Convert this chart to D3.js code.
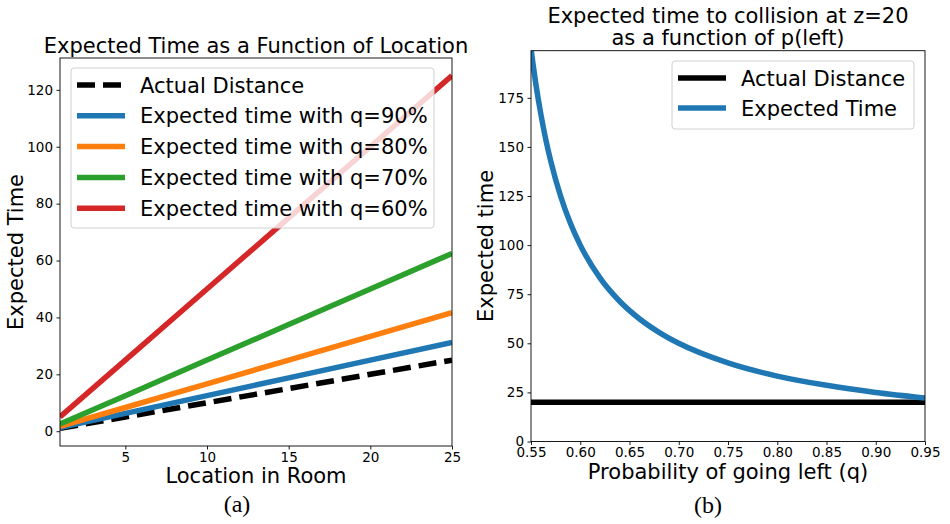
<!DOCTYPE html>
<html>
<head>
<meta charset="utf-8">
<script src="https://cdn.jsdelivr.net/npm/d3@7"></script>
<style>
  body { margin: 0; background: #fff; }
  svg text { font-family: "DejaVu Sans", sans-serif; fill: #000; }
  .tick text { font-size: 13.5px; }
  .caption { font-family: "Liberation Serif", serif; font-size: 24px; }
</style>
</head>
<body>
<div id="chart"></div>
<script>
// panel (a): expected time vs location
const locations = [1, 5, 10, 15, 20, 25]
const actualDistance = [1, 5, 10, 15, 20, 25]
const timeQ90 = [1.25, 6.25, 12.5, 18.75, 25, 31.25]
const timeQ80 = [1.67, 8.33, 16.67, 25, 33.33, 41.67]
const timeQ70 = [2.5, 12.5, 25, 37.5, 50, 62.5]
const timeQ60 = [5, 25, 50, 75, 100, 125]
const leftLabels = ["Actual Distance", "Expected time with q=90%", "Expected time with q=80%",
                    "Expected time with q=70%", "Expected time with q=60%"]
const leftXTicks = [5, 10, 15, 20, 25]
const leftYTicks = [0, 20, 40, 60, 80, 100, 120]

// panel (b): expected time vs p(left), z=20
const probLeft = [0.55, 0.555, 0.56, 0.565, 0.57, 0.58, 0.59, 0.60, 0.62, 0.64, 0.66, 0.68,
                  0.70, 0.75, 0.80, 0.85, 0.90, 0.95]
const expectedTime = [200, 181.8, 166.7, 153.8, 142.9, 125, 111.1, 100, 83.3, 71.4, 62.5, 55.6,
                      50, 40, 33.3, 28.6, 25, 22.2]
const actualDist = [20, 20]
const rightLabels = ["Actual Distance", "Expected Time"]
const rightXTicks = [0.55, 0.60, 0.65, 0.70, 0.75, 0.80, 0.85, 0.90, 0.95]
const rightYTicks = [0, 25, 50, 75, 100, 125, 150, 175]

const colours = ["#000000", "#1f77b4", "#ff7f0e", "#2ca02c", "#d62728"]

let width = 950
let height = 524
let svg = d3.select("#chart")
    .append("svg")
        .attr("width", width)
        .attr("height", height)

function styleAxis(g){
    g.select(".domain").remove()
    g.selectAll(".tick line").attr("stroke", "#000").attr("stroke-width", 0.9)
}

function drawLegend(x, y, w, h, labels, cols, dashed, firstY, step){
    svg.append("rect")
        .attr("x", x).attr("y", y).attr("width", w).attr("height", h)
        .attr("rx", 3)
        .attr("fill", "#fff").attr("fill-opacity", 0.8)
        .attr("stroke", "#d0d0d0").attr("stroke-width", 1)
    labels.forEach(function(lab, i){
        let cy = firstY + i * step
        svg.append("line")
            .attr("x1", x + 6).attr("x2", x + 54)
            .attr("y1", cy).attr("y2", cy)
            .attr("stroke", cols[i]).attr("stroke-width", 5.5)
            .attr("stroke-dasharray", (dashed && i == 0) ? "18,8" : null)
        svg.append("text")
            .attr("x", x + 69).attr("y", cy + 7.5)
            .attr("font-size", "21px")
            .text(lab)
    })
}

// ---------- left panel ----------
let lx = d3.scaleLinear().domain([1, 25]).range([60, 452])
let ly = d3.scaleLinear().domain([-5.2, 131.2]).range([446, 58])

svg.append("clipPath").attr("id", "clipL")
    .append("rect").attr("x", 60).attr("y", 58).attr("width", 392).attr("height", 388)

let leftSeries = [actualDistance, timeQ90, timeQ80, timeQ70, timeQ60]
let leftLine = d3.line()
    .x(d => lx(d[0]))
    .y(d => ly(d[1]))
leftSeries.forEach(function(s, i){
    svg.append("path")
        .attr("clip-path", "url(#clipL)")
        .attr("fill", "none")
        .attr("stroke", colours[i])
        .attr("stroke-width", 5.5)
        .attr("stroke-dasharray", i == 0 ? "18,8" : null)
        .attr("d", leftLine(locations.map((x, j) => [x, s[j]])))
})

svg.append("g")
    .attr("transform", "translate(0,446)")
    .call(d3.axisBottom(lx).tickValues(leftXTicks).tickSize(3.5).tickPadding(2.8).tickSizeOuter(0))
    .call(styleAxis)
svg.append("g")
    .attr("transform", "translate(60,0)")
    .call(d3.axisLeft(ly).tickValues(leftYTicks).tickSize(3.5).tickPadding(3.5).tickSizeOuter(0))
    .call(styleAxis)

svg.append("rect")
    .attr("x", 60).attr("y", 58).attr("width", 392).attr("height", 388)
    .attr("fill", "none").attr("stroke", "#000").attr("stroke-width", 0.9)

drawLegend(71, 68, 363, 160, leftLabels, colours, true, 85, 30.8)

svg.append("text")
    .attr("x", 256).attr("y", 53)
    .attr("text-anchor", "middle").attr("font-size", "21px")
    .text("Expected Time as a Function of Location")
svg.append("text")
    .attr("x", 256).attr("y", 483)
    .attr("text-anchor", "middle").attr("font-size", "21px")
    .text("Location in Room")
svg.append("text")
    .attr("transform", "translate(23,252) rotate(-90)")
    .attr("text-anchor", "middle").attr("font-size", "21px")
    .text("Expected Time")
svg.append("text")
    .attr("class", "caption")
    .attr("x", 237).attr("y", 512)
    .attr("text-anchor", "middle")
    .text("(a)")

// ---------- right panel ----------
let rx = d3.scaleLinear().domain([0.55, 0.95]).range([531, 925])
let ry = d3.scaleLinear().domain([0, 199]).range([441.5, 50.7])

svg.append("clipPath").attr("id", "clipR")
    .append("rect").attr("x", 531).attr("y", 50.7).attr("width", 394).attr("height", 390.8)

let curve = d3.line()
    .x(d => rx(d[0]))
    .y(d => ry(d[1]))
    .curve(d3.curveMonotoneX)

svg.append("path")
    .attr("clip-path", "url(#clipR)")
    .attr("fill", "none")
    .attr("stroke", "#000")
    .attr("stroke-width", 5.5)
    .attr("d", d3.line().x(d => rx(d[0])).y(d => ry(d[1]))([[0.55, actualDist[0]], [0.95, actualDist[1]]]))

svg.append("path")
    .attr("clip-path", "url(#clipR)")
    .attr("fill", "none")
    .attr("stroke", colours[1])
    .attr("stroke-width", 5.5)
    .attr("d", curve(probLeft.map((q, i) => [q, expectedTime[i]])))

svg.append("g")
    .attr("transform", "translate(0,441.5)")
    .call(d3.axisBottom(rx).tickValues(rightXTicks).tickFormat(d3.format(".2f")).tickSize(3.5).tickPadding(2.3).tickSizeOuter(0))
    .call(styleAxis)
svg.append("g")
    .attr("transform", "translate(531,0)")
    .call(d3.axisLeft(ry).tickValues(rightYTicks).tickSize(3.5).tickPadding(3.5).tickSizeOuter(0))
    .call(styleAxis)

svg.append("rect")
    .attr("x", 531).attr("y", 50.7).attr("width", 394).attr("height", 390.8)
    .attr("fill", "none").attr("stroke", "#000").attr("stroke-width", 0.9)

drawLegend(672, 61, 242, 68, rightLabels, ["#000", colours[1]], false, 78, 30)

svg.append("text")
    .attr("x", 728).attr("y", 23)
    .attr("text-anchor", "middle").attr("font-size", "21px")
    .text("Expected time to collision at z=20")
svg.append("text")
    .attr("x", 728).attr("y", 45)
    .attr("text-anchor", "middle").attr("font-size", "21px")
    .text("as a function of p(left)")
svg.append("text")
    .attr("x", 728).attr("y", 478.5)
    .attr("text-anchor", "middle").attr("font-size", "21px")
    .text("Probability of going left (q)")
svg.append("text")
    .attr("transform", "translate(493,246) rotate(-90)")
    .attr("text-anchor", "middle").attr("font-size", "21px")
    .text("Expected time")
svg.append("text")
    .attr("class", "caption")
    .attr("x", 708).attr("y", 513)
    .attr("text-anchor", "middle")
    .text("(b)")
</script>
</body>
</html>
